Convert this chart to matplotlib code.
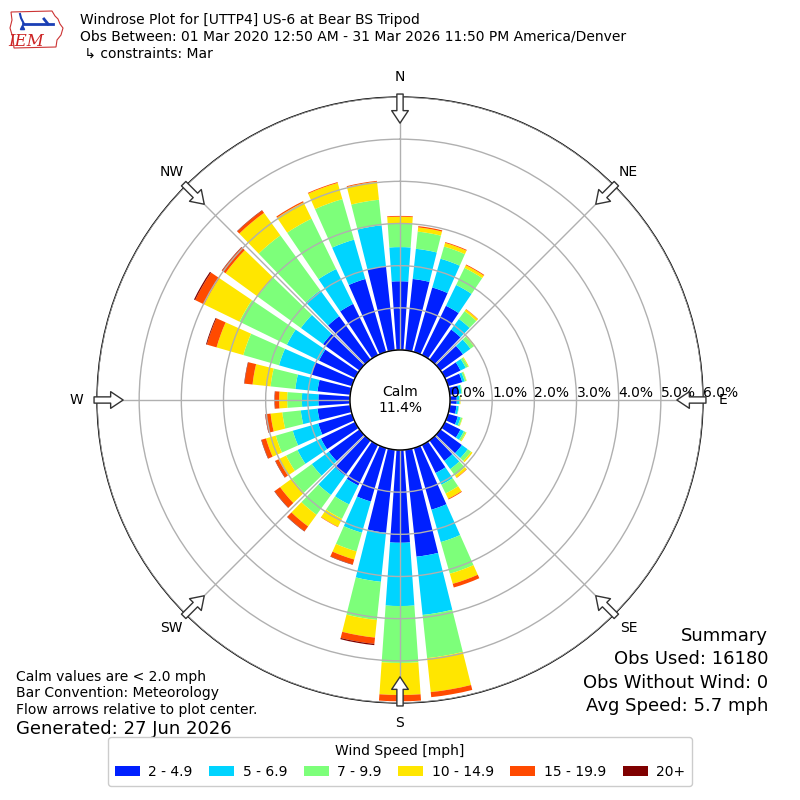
import numpy as np
import matplotlib
matplotlib.use('Agg')
import matplotlib.pyplot as plt
from matplotlib.patches import Circle, Polygon

# direction bins (deg, meteorological) and speed bins
directions = np.arange(0, 360, 10)
speed_labels = ['2 - 4.9', '5 - 6.9', '7 - 9.9', '10 - 14.9', '15 - 19.9', '20+']
speed_colors = ['#0020ff', '#00d4ff', '#7dff7a', '#ffe600', '#ff4a00', '#7f0000']

pct_2_5 = [1.63, 1.70, 1.59, 1.30, 0.88, 0.66, 0.41, 0.35, 0.22, 0.16, 0.16, 0.24,
           0.41, 0.63, 0.60, 0.74, 1.52, 2.55, 2.20, 1.98, 1.32, 1.07, 1.03, 0.90,
           0.90, 0.83, 0.78, 0.75, 0.78, 1.00, 0.95, 1.07, 1.27, 1.35, 1.80, 2.00]
pct_5_7 = [0.81, 0.72, 0.71, 0.55, 0.31, 0.22, 0.14, 0.06, 0.06, 0.06, 0.05, 0.07,
           0.09, 0.17, 0.24, 0.31, 0.80, 1.39, 1.50, 1.17, 0.77, 0.50, 0.57, 0.50,
           0.62, 0.63, 0.40, 0.39, 0.53, 0.80, 0.85, 0.65, 0.76, 0.92, 0.97, 0.98]
pct_7_10 = [0.57, 0.41, 0.30, 0.45, 0.23, 0.10, 0.06, 0.04, 0.02, 0.02, 0.01, 0.04,
            0.05, 0.10, 0.19, 0.23, 0.78, 1.03, 1.35, 0.91, 0.46, 0.38, 0.58, 0.58,
            0.30, 0.42, 0.44, 0.35, 0.59, 0.88, 1.25, 1.27, 1.61, 1.33, 1.00, 0.61]
pct_10_15 = [0.15, 0.10, 0.09, 0.07, 0.05, 0.03, 0.02, 0.01, 0.00, 0.01, 0.00, 0.01,
             0.02, 0.04, 0.06, 0.14, 0.25, 0.81, 0.76, 0.42, 0.20, 0.21, 0.34, 0.35,
             0.20, 0.24, 0.28, 0.19, 0.43, 0.66, 0.93, 0.94, 0.66, 0.43, 0.40, 0.43]
pct_15_20 = [0.02, 0.03, 0.02, 0.02, 0.01, 0.00, 0.00, 0.00, 0.00, 0.00, 0.00, 0.00,
             0.00, 0.00, 0.01, 0.02, 0.09, 0.12, 0.15, 0.15, 0.12, 0.01, 0.14, 0.16,
             0.08, 0.11, 0.12, 0.10, 0.19, 0.24, 0.24, 0.10, 0.07, 0.03, 0.02, 0.02]
pct_20_up = [0.00, 0.00, 0.00, 0.00, 0.00, 0.00, 0.00, 0.00, 0.00, 0.00, 0.00, 0.00,
             0.00, 0.00, 0.00, 0.00, 0.00, 0.00, 0.00, 0.03, 0.01, 0.00, 0.01, 0.01,
             0.01, 0.01, 0.01, 0.01, 0.01, 0.02, 0.03, 0.01, 0.01, 0.00, 0.00, 0.00]
speed_bins = [pct_2_5, pct_5_7, pct_7_10, pct_10_15, pct_15_20, pct_20_up]

calm_pct = 11.4
rmax = 6
ring_labels = ['%.1f%%' % v for v in range(0, rmax + 1)]
compass = ['N', 'NE', 'E', 'SE', 'S', 'SW', 'W', 'NW']

fig = plt.figure(figsize=(8, 8), dpi=100)
ax = fig.add_axes([97 / 800, 97 / 800, 606 / 800, 606 / 800], projection='polar')
ax.set_theta_zero_location('N')
ax.set_theta_direction(-1)

theta = np.deg2rad(directions)
bottom = np.zeros(len(directions))
for vals, color, label in zip(speed_bins, speed_colors, speed_labels):
    vals = np.array(vals)
    ax.bar(theta, vals, width=np.deg2rad(8), bottom=bottom, color=color,
           label=label, linewidth=0, zorder=1)
    bottom += vals

ax.set_ylim(0, rmax)
ax.set_rorigin(-1.186)
ax.set_rgrids(np.arange(0, rmax + 1), labels=ring_labels, angle=90, fontsize=10)
ax.set_thetagrids(np.arange(0, 360, 45), labels=compass, fontsize=10)
ax.tick_params(axis='x', pad=4)
ax.set_axisbelow(False)
ax.grid(True, color='#b0b0b0', linewidth=1)
ax.spines['polar'].set_color('black')
ax.spines['polar'].set_linewidth(1)

# calm circle in the middle
ax.add_patch(Circle((0.5, 0.5), 50 / 606, transform=ax.transAxes, facecolor='white',
                    edgecolor='black', linewidth=1, zorder=4, clip_on=False))
ax.text(0.5, 0.5, 'Calm\n%.1f%%' % calm_pct, transform=ax.transAxes, ha='center',
        va='center', fontsize=10, zorder=5)

# flow arrows at the compass points
for d in range(0, 360, 45):
    t = np.deg2rad(d)
    ax.annotate('', xy=(t, 5.38), xytext=(t, 6.07), annotation_clip=False, zorder=6,
                arrowprops=dict(arrowstyle='simple,head_length=0.9,head_width=1.2,tail_width=0.45',
                                fc='white', ec='#333333', lw=1, shrinkA=0, shrinkB=0))

# header
fig.text(80 / 800, 1 - 20 / 800, 'Windrose Plot for [UTTP4] US-6 at Bear BS Tripod',
         fontsize=10, va='center')
fig.text(80 / 800, 1 - 37 / 800,
         'Obs Between: 01 Mar 2020 12:50 AM - 31 Mar 2026 11:50 PM America/Denver',
         fontsize=10, va='center')
fig.text(80 / 800, 1 - 54 / 800, ' \u21b3 constraints: Mar', fontsize=10, va='center')

# IEM logo (rough)
lax = fig.add_axes([8 / 800, 1 - 52 / 800, 58 / 800, 46 / 800])
lax.set_xlim(0, 58)
lax.set_ylim(0, 46)
lax.axis('off')
lax.add_patch(Polygon([(3, 40), (44, 41), (47, 36), (50, 33), (52, 28), (55, 24),
                       (53, 17), (49, 12), (48, 5), (6, 4), (5, 14), (2, 24), (4, 32)],
                      closed=True, fill=False, ec='#cc3333', lw=0.8))
lax.plot([15, 45], [28, 28], color='#1a3fb5', lw=2)
lax.plot([16, 13, 12], [28, 34, 38], color='#1a3fb5', lw=1.5)
lax.plot([40, 36], [28, 33], color='#1a3fb5', lw=2)
lax.plot(14, 25, marker='^', color='#1a3fb5', ms=3)
lax.text(18, 11, 'IEM', color='#cc2222', fontsize=12, family='serif', style='italic',
         ha='center', va='center')

# notes bottom left
fig.text(16 / 800, 1 - 677 / 800, 'Calm values are < 2.0 mph', fontsize=10, va='center')
fig.text(16 / 800, 1 - 693 / 800, 'Bar Convention: Meteorology', fontsize=10, va='center')
fig.text(16 / 800, 1 - 710 / 800, 'Flow arrows relative to plot center.', fontsize=10,
         va='center')
fig.text(16 / 800, 1 - 729 / 800, 'Generated: 27 Jun 2026', fontsize=13, va='center')

# summary bottom right
summary = ['Summary', 'Obs Used: 16180', 'Obs Without Wind: 0', 'Avg Speed: 5.7 mph']
for i, line in enumerate(summary):
    fig.text(768 / 800, 1 - (636 + i * 23.3) / 800, line, fontsize=13, ha='right',
             va='center')

handles, labels = ax.get_legend_handles_labels()
fig.legend(handles, labels, loc='lower center', bbox_to_anchor=(0.5, 7 / 800), ncol=6,
           title='Wind Speed [mph]', fontsize=10, title_fontsize=10, handlelength=1.8,
           handleheight=0.7, handletextpad=0.6, columnspacing=1.2, borderpad=0.5,
           framealpha=1, edgecolor='#cccccc')

fig.savefig('out.png', dpi=100)
